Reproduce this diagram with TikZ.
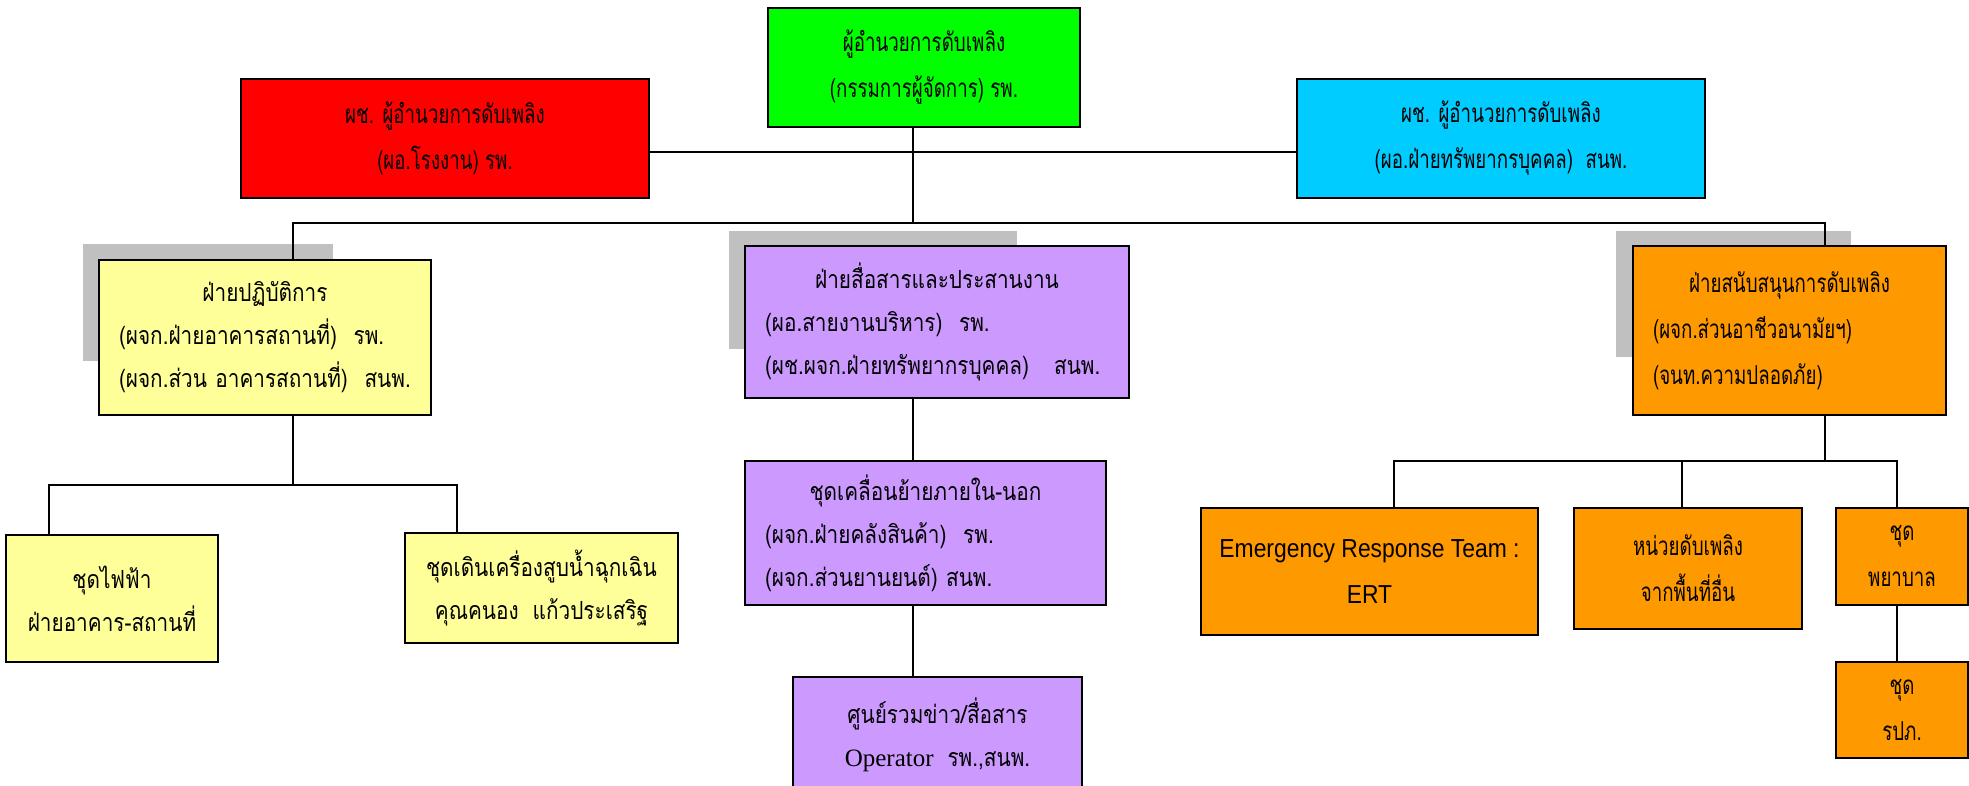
\documentclass[tikz,border=0pt]{standalone}
\usepackage{fontspec}
\usepackage{tikz}
\newfontfamily\thaicond[Script=Thai, FakeStretch=0.72]{Loma}
\newfontfamily\thaibody[Script=Thai, FakeStretch=0.83]{Loma}
\newfontfamily\latinsans[FakeStretch=0.88]{Liberation Sans}
\newfontfamily\latinserif{Liberation Serif}
\definecolor{chiefgreen}{HTML}{00FF00}
\definecolor{deputyred}{HTML}{FF0000}
\definecolor{deputyblue}{HTML}{00CCFF}
\definecolor{opsyellow}{HTML}{FFFF99}
\definecolor{commpurple}{HTML}{CC99FF}
\definecolor{supportorange}{HTML}{FF9900}
\definecolor{shadowgray}{HTML}{C0C0C0}
\newcommand\midline[1]{\makebox[\linewidth]{#1}}

\begin{document}
\begin{tikzpicture}[x=1pt, y=-1pt,
  box/.style={draw, line width=1.4pt, inner sep=0pt, align=center},
  condtext/.style={font={\fontsize{26pt}{46pt}\selectfont\thaicond}},
  bodytext/.style={font={\fontsize{25pt}{43pt}\selectfont\thaibody}},
  shade/.style={fill=shadowgray},
  link/.style={line width=1.4pt}
]
\fill[white] (0,0) rectangle (1969,786);
\useasboundingbox (0,0) rectangle (1969,786);

\fill[shade] (83,244) rectangle (333,361);
\fill[shade] (729,231) rectangle (1017,349);
\fill[shade] (1616,231) rectangle (1851,357);

\node[box, condtext, fill=chiefgreen, minimum width=312pt, minimum height=119pt] (chief) at (924,67.5)
  {ผู้อำนวยการดับเพลิง\\(กรรมการผู้จัดการ) รพ.};
\node[box, condtext, fill=deputyred, minimum width=408pt, minimum height=119pt] (plant) at (445,138.5)
  {ผช. ผู้อำนวยการดับเพลิง\\(ผอ.โรงงาน) รพ.};
\node[box, condtext, fill=deputyblue, minimum width=408pt, minimum height=119pt] (hr) at (1501,138.5)
  {ผช. ผู้อำนวยการดับเพลิง\\(ผอ.ฝ่ายทรัพยากรบุคคล)\ \ สนพ.};

\node[box, bodytext, fill=opsyellow, minimum width=332pt, minimum height=155pt, text width=292pt, align=left] (ops) at (265,337.5)
  {\midline{ฝ่ายปฏิบัติการ}\\(ผจก.ฝ่ายอาคารสถานที่)\ \ รพ.\\(ผจก.ส่วน อาคารสถานที่)\ \ สนพ.};
\node[box, bodytext, fill=commpurple, minimum width=384pt, minimum height=152pt, text width=344pt, align=left] (comm) at (937,322)
  {\midline{ฝ่ายสื่อสารและประสานงาน}\\(ผอ.สายงานบริหาร)\ \ รพ.\\(ผช.ผจก.ฝ่ายทรัพยากรบุคคล)\ \ \ สนพ.};
\node[box, condtext, fill=supportorange, minimum width=313pt, minimum height=169pt, text width=273pt, align=left] (support) at (1789.5,330.5)
  {\midline{ฝ่ายสนับสนุนการดับเพลิง}\\(ผจก.ส่วนอาชีวอนามัยฯ)\\(จนท.ความปลอดภัย)};

\node[box, bodytext, fill=opsyellow, minimum width=212pt, minimum height=127pt] (power) at (112,598.5)
  {ชุดไฟฟ้า\\ฝ่ายอาคาร-สถานที่};
\node[box, bodytext, fill=opsyellow, minimum width=273pt, minimum height=110pt] (pump) at (541.5,588)
  {ชุดเดินเครื่องสูบน้ำฉุกเฉิน\\คุณคนอง\ \ แก้วประเสริฐ};
\node[box, bodytext, fill=commpurple, minimum width=361pt, minimum height=144pt, text width=321pt, align=left] (move) at (925.5,533)
  {\midline{ชุดเคลื่อนย้ายภายใน-นอก}\\(ผจก.ฝ่ายคลังสินค้า)\ \ รพ.\\(ผจก.ส่วนยานยนต์) สนพ.};
\node[box, bodytext, fill=commpurple, minimum width=289pt, minimum height=116pt] (news) at (937.5,735)
  {ศูนย์รวมข่าว/สื่อสาร\\{\latinserif Operator}\ \ รพ.,สนพ.};

\node[box, condtext, fill=supportorange, minimum width=337pt, minimum height=127pt] (ert) at (1369.5,571.5)
  {{\latinsans Emergency Response Team :}\\{\latinsans ERT}};
\node[box, condtext, fill=supportorange, minimum width=228pt, minimum height=121pt] (brigade) at (1688,568.5)
  {หน่วยดับเพลิง\\จากพื้นที่อื่น};
\node[box, condtext, fill=supportorange, minimum width=132pt, minimum height=97pt] (nurse) at (1902,556.5)
  {ชุด\\พยาบาล};
\node[box, condtext, fill=supportorange, minimum width=132pt, minimum height=96pt] (guard) at (1902,710)
  {ชุด\\รปภ.};

\coordinate (hub) at (913,223);
\coordinate (opsfork) at (293,485);
\coordinate (supfork) at (1825,461);

\draw[link] ([yshift=-13.5pt]plant.east) -- ([yshift=-13.5pt]hr.west);
\draw[link] ([xshift=-11pt]chief.south) -- (hub);
\draw[link] ([xshift=28pt]ops.north) |- (hub) -| ([xshift=35.5pt]support.north);

\draw[link] ([xshift=28pt]ops.south) -- (opsfork);
\draw[link] ([xshift=-63pt]power.north) |- (opsfork) -| ([xshift=-84.5pt]pump.north);

\draw[link] (comm.south -| hub) -- (move.north -| hub);
\draw[link] (move.south -| hub) -- (news.north -| hub);

\draw[link] ([xshift=35.5pt]support.south) -- (supfork);
\draw[link] ([xshift=24.5pt]ert.north) |- (supfork) -| ([xshift=-5pt]nurse.north);
\draw[link] ([xshift=-6pt]brigade.north) -- ([xshift=-6pt]brigade.north |- supfork);
\draw[link] ([xshift=-5pt]nurse.south) -- ([xshift=-5pt]guard.north);
\end{tikzpicture}
\end{document}
